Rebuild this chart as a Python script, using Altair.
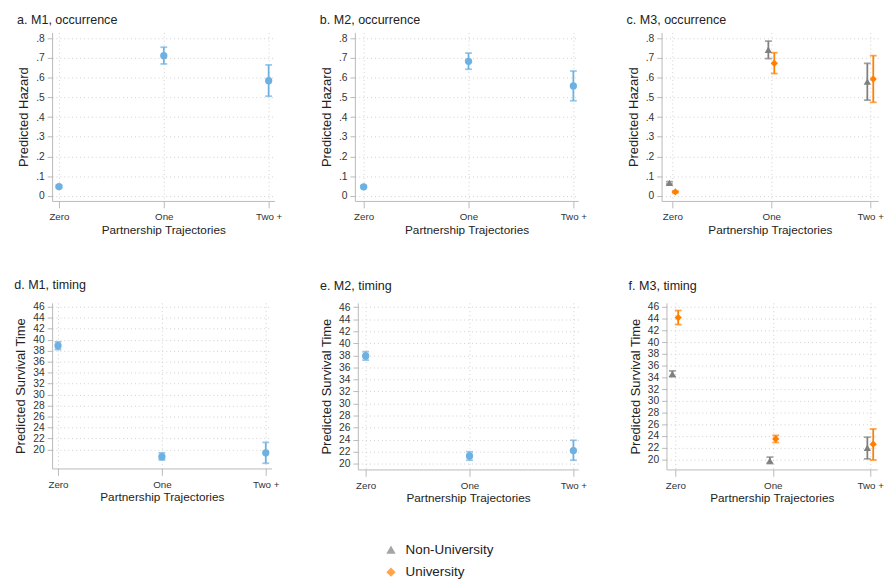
import altair as alt
import pandas as pd

# ---------------- data ----------------
CATS = ["Zero", "One", "Two +"]
GROUPS = ["Non-University", "University"]

# a. M1, occurrence
A_EST = [0.047, 0.712, 0.585]
A_LO = [0.041, 0.670, 0.506]
A_HI = [0.053, 0.755, 0.665]
# b. M2, occurrence
B_EST = [0.046, 0.683, 0.558]
B_LO = [0.040, 0.643, 0.483]
B_HI = [0.052, 0.725, 0.634]
# c. M3, occurrence
C_NU_EST = [0.066, 0.742, 0.580]
C_NU_LO = [0.060, 0.697, 0.486]
C_NU_HI = [0.072, 0.786, 0.673]
C_U_EST = [0.020, 0.673, 0.593]
C_U_LO = [0.016, 0.621, 0.475]
C_U_HI = [0.024, 0.727, 0.712]
# d. M1, timing
D_EST = [38.9, 18.7, 19.4]
D_LO = [38.2, 18.1, 17.5]
D_HI = [39.6, 19.4, 21.3]
# e. M2, timing
E_EST = [37.9, 21.3, 22.2]
E_LO = [37.2, 20.6, 20.6]
E_HI = [38.6, 22.0, 23.9]
# f. M3, timing
F_NU_EST = [34.6, 19.8, 22.0]
F_NU_LO = [34.1, 19.3, 20.1]
F_NU_HI = [35.1, 20.4, 23.8]
F_U_EST = [44.2, 23.5, 22.6]
F_U_LO = [43.0, 22.9, 19.9]
F_U_HI = [45.4, 24.1, 25.2]

HAZARD_TICKS = [0, 0.1, 0.2, 0.3, 0.4, 0.5, 0.6, 0.7, 0.8]
TIME_TICKS = list(range(20, 47, 2))

BLUE = "#6cb1e1"
GRAY = "#7f7f7f"
ORANGE = "#ff8000"
FONT = "Liberation Sans"


def make_df(series):
    rows = []
    for g, est, lo, hi in series:
        for i, c in enumerate(CATS):
            rows.append(dict(cat=c, idx=i + 1, group=g, est=est[i], lo=lo[i], hi=hi[i]))
    return pd.DataFrame(rows)


x_label_expr = " : ".join(
    [f"datum.value == {i + 1} ? '{c}'" for i, c in enumerate(CATS[:-1])] + [f"'{CATS[-1]}'"]
)
hazard_label_expr = "datum.value == 0 ? '0' : slice(format(datum.value, '.1f'), 1)"


def panel(title, df, ytitle, ydom, yvals, ylabel_expr, xdom, w, h, grouped, toff):
    base = alt.Chart(df).transform_calculate(
        xpos="datum.idx + (datum.group == 'Non-University' ? -0.03 : (datum.group == 'University' ? 0.03 : 0))"
    )
    x = alt.X(
        "xpos:Q",
        scale=alt.Scale(domain=xdom, nice=False, zero=False),
        axis=alt.Axis(
            values=[1, 2, 3], labelExpr=x_label_expr, title="Partnership Trajectories",
            tickSize=7, labelPadding=4, titlePadding=3, titleFontSize=12, labelFontSize=10,
        ),
    )
    yaxis_kwargs = dict(values=yvals, title=ytitle, tickSize=5, labelPadding=3, titlePadding=5)
    if ylabel_expr:
        yaxis_kwargs["labelExpr"] = ylabel_expr
    yscale = alt.Scale(domain=ydom, nice=False, zero=False)

    if grouped:
        legend = alt.Legend(orient="none", legendX=339, legendY=521, direction="vertical",
                            labelFontSize=13.7, symbolSize=90, rowPadding=8, labelOffset=8,
                            labelColor="#222", symbolStrokeWidth=0)
        color = alt.Color("group:N", title=None,
                          scale=alt.Scale(domain=GROUPS, range=[GRAY, ORANGE]), legend=legend)
        shape = alt.Shape("group:N", title=None,
                          scale=alt.Scale(domain=GROUPS, range=["triangle-up", "diamond"]), legend=legend)
    else:
        color = alt.value(BLUE)
        shape = alt.value("circle")

    rule = base.mark_rule(strokeWidth=1.8).encode(
        x=x, y=alt.Y("lo:Q", scale=yscale, axis=alt.Axis(**yaxis_kwargs)), y2="hi:Q", color=color
    )
    cap_lo = base.mark_tick(orient="horizontal", size=7, thickness=1.8).encode(
        x=x, y=alt.Y("lo:Q", scale=yscale, axis=alt.Axis(**yaxis_kwargs)), color=color
    )
    cap_hi = base.mark_tick(orient="horizontal", size=7, thickness=1.8).encode(
        x=x, y=alt.Y("hi:Q", scale=yscale, axis=alt.Axis(**yaxis_kwargs)), color=color
    )
    pts = base.mark_point(filled=True, size=55, opacity=1).encode(
        x=x, y=alt.Y("est:Q", scale=yscale, axis=alt.Axis(**yaxis_kwargs)), color=color, shape=shape
    )
    return alt.layer(rule, cap_lo, cap_hi, pts).properties(
        width=w, height=h,
        title=alt.TitleParams(title, anchor="start", fontSize=12.8, fontWeight="normal",
                              font=FONT, color="#222", offset=toff),
    )


dfa = make_df([("", A_EST, A_LO, A_HI)])
dfb = make_df([("", B_EST, B_LO, B_HI)])
dfc = make_df([("Non-University", C_NU_EST, C_NU_LO, C_NU_HI), ("University", C_U_EST, C_U_LO, C_U_HI)])
dfd = make_df([("", D_EST, D_LO, D_HI)])
dfe = make_df([("", E_EST, E_LO, E_HI)])
dff = make_df([("Non-University", F_NU_EST, F_NU_LO, F_NU_HI), ("University", F_U_EST, F_U_LO, F_U_HI)])

HZ = "Predicted Hazard"
ST = "Predicted Survival Time"
HZ_DOM = [-0.026, 0.83]

pa = panel("a. M1, occurrence", dfa, HZ, HZ_DOM, HAZARD_TICKS, hazard_label_expr, [0.9346, 3.056], 227, 172, False, 6)
pb = panel("b. M2, occurrence", dfb, HZ, HZ_DOM, HAZARD_TICKS, hazard_label_expr, [0.916, 3.047], 228, 172, False, 6)
pc = panel("c. M3, occurrence", dfc, HZ, HZ_DOM, HAZARD_TICKS, hazard_label_expr, [0.891, 3.079], 221, 172, True, 6)
pd_ = panel("d. M1, timing", dfd, ST, [16.55, 46.7], TIME_TICKS, None, [0.943, 3.056], 224, 169, False, 10)
pe = panel("e. M2, timing", dfe, ST, [19.06, 46.7], TIME_TICKS, None, [0.9245, 3.047], 225, 170, False, 10)
pf = panel("f. M3, timing", dff, ST, [18.3, 46.7], TIME_TICKS, None, [0.9095, 3.0703], 215, 170, True, 10)

row1 = alt.hconcat(alt.hconcat(pa, pb, spacing=38), pc, spacing=40).resolve_scale(color="shared", shape="shared")
row2 = alt.hconcat(alt.hconcat(pd_, pe, spacing=41), pf, spacing=42).resolve_scale(color="shared", shape="shared")

chart = (
    alt.vconcat(row1, row2, spacing=45)
    .resolve_scale(color="shared", shape="shared")
    .properties(padding={"left": 6, "top": 0, "right": 0, "bottom": 0})
    .configure_view(strokeWidth=0)
    .configure_axis(
        domainColor="#b8b8b8", tickColor="#b8b8b8", gridColor="#cfcfcf", gridDash=[1, 3],
        gridWidth=1, labelColor="#333", titleColor="#222", labelFont=FONT, titleFont=FONT,
        labelFontSize=10.5, titleFontSize=13.2, titleFontWeight="normal",
    )
    .configure_legend(labelFont=FONT)
)

chart.save("out.html", embed_options={"renderer": "svg", "actions": False})
